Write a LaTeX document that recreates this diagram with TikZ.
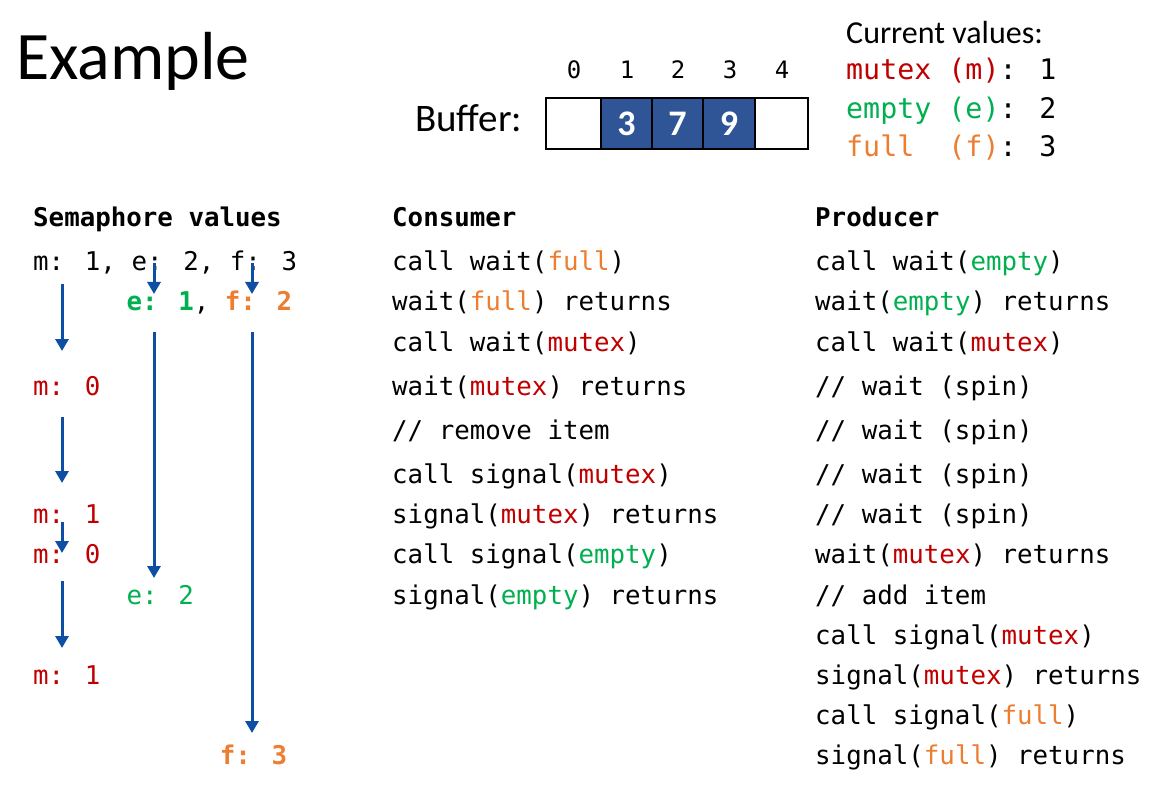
\documentclass[tikz,border=0pt]{standalone}
\usepackage{fontspec}
\setmainfont{Carlito}
\newfontfamily\mono{DejaVu Sans Mono}
\usetikzlibrary{arrows.meta}
\definecolor{cred}{HTML}{C00000}
\definecolor{cgreen}{HTML}{00B050}
\definecolor{corange}{HTML}{ED7D31}
\definecolor{cblue}{HTML}{0D4FA3}
\definecolor{cfill}{HTML}{2F5597}
\newcommand\cR[1]{\textcolor{cred}{#1}}
\newcommand\cG[1]{\textcolor{cgreen}{#1}}
\newcommand\cO[1]{\textcolor{corange}{#1}}
\begin{document}
\begin{tikzpicture}[x=1pt,y=-1pt,
  txt/.style={inner sep=0pt,anchor=base west,font=\mono\fontsize{25.8}{30}\selectfont},
  hdr/.style={txt,font=\mono\bfseries\fontsize{25.8}{30}\selectfont},
  cur/.style={inner sep=0pt,anchor=base west,font=\mono\fontsize{28.3}{32}\selectfont},
  idx/.style={inner sep=0pt,anchor=base,font=\mono\fontsize{24}{28}\selectfont},
  cell/.style={draw=black,line width=2.6pt,minimum height=51pt,inner sep=0pt,
    font=\bfseries\fontsize{36}{40}\selectfont},
  full/.style={cell,fill=cfill,text=white},
  arr/.style={draw=cblue,line width=3pt,-{Triangle[width=13pt,length=12pt]}}]
\useasboundingbox (0,0) rectangle (1175,794);
\fill[white] (0,0) rectangle (1175,794);

% title
\node[inner sep=0pt,anchor=base west,font=\fontsize{68}{72}\selectfont] (title) at (16,80) {Example};

% buffer
\node[inner sep=0pt,anchor=base west,font=\fontsize{39}{44}\selectfont] (buflabel) at (415,132) {Buffer:};
\node[cell,minimum width=55pt] (c0) at (573.5,123.5) {};
\node[full,minimum width=51pt] (c1) at (626.5,123.5) {3};
\node[full,minimum width=51pt] (c2) at (677.5,123.5) {7};
\node[full,minimum width=52pt] (c3) at (729,123.5) {9};
\node[cell,minimum width=53pt] (c4) at (781.5,123.5) {};
\node[idx] (i0) at (574,79) {0};
\node[idx] (i1) at (627,79) {1};
\node[idx] (i2) at (678,79) {2};
\node[idx] (i3) at (730,79) {3};
\node[idx] (i4) at (782,79) {4};

% current values
\node[inner sep=0pt,anchor=base west,font=\fontsize{32}{36}\selectfont] (curhdr) at (846,44) {Current values:};
\node[cur] (curm) at (846,80) {\cR{mutex (m)}: 1};
\node[cur] (cure) at (846,118.5) {\cG{empty (e)}: 2};
\node[cur] (curf) at (846,157) {\cO{full~~(f)}: 3};

% headers
\node[hdr] (hsem) at (33,227) {Semaphore values};
\node[hdr] (hcon) at (392,227) {Consumer};
\node[hdr] (hpro) at (815,227) {Producer};

% semaphore values
\node[txt] (s0) at (33,271) {m: 1, e: 2, f: 3};
\node[txt] (s1) at (126.3,311) {\textbf{\cG{e: 1}}, \textbf{\cO{f: 2}}};
\node[txt] (s2) at (33,395) {\cR{m: 0}};
\node[txt] (s3) at (33,523) {\cR{m: 1}};
\node[txt] (s4) at (33,563) {\cR{m: 0}};
\node[txt] (s5) at (126.3,604) {\cG{e: 2}};
\node[txt] (s6) at (33,684) {\cR{m: 1}};
\node[txt] (s7) at (219.6,764) {\textbf{\cO{f: 3}}};

% arrows
\coordinate (a1s) at (62,284);  \coordinate (a1e) at (62,351);
\coordinate (a2s) at (62,417);  \coordinate (a2e) at (62,483);
\coordinate (a3s) at (62,522);  \coordinate (a3e) at (62,553);
\coordinate (a4s) at (62,581);  \coordinate (a4e) at (62,648);
\coordinate (b1s) at (154,263); \coordinate (b1e) at (154,294);
\coordinate (b2s) at (154,332); \coordinate (b2e) at (154,578);
\coordinate (c1s) at (252,263); \coordinate (c1e) at (252,294);
\coordinate (c2s) at (252,332); \coordinate (c2e) at (252,733);
\draw[arr] (a1s) -- (a1e);
\draw[arr] (a2s) -- (a2e);
\draw[arr] (a3s) -- (a3e);
\draw[arr] (a4s) -- (a4e);
\draw[arr] (b1s) -- (b1e);
\draw[arr] (b2s) -- (b2e);
\draw[arr] (c1s) -- (c1e);
\draw[arr] (c2s) -- (c2e);

% consumer
\node[txt] (k1) at (392,271) {call wait(\cO{full})};
\node[txt] (k2) at (392,311) {wait(\cO{full}) returns};
\node[txt] (k3) at (392,351) {call wait(\cR{mutex})};
\node[txt] (k4) at (392,395) {wait(\cR{mutex}) returns};
\node[txt] (k5) at (392,439) {// remove item};
\node[txt] (k6) at (392,483) {call signal(\cR{mutex})};
\node[txt] (k7) at (392,523) {signal(\cR{mutex}) returns};
\node[txt] (k8) at (392,563) {call signal(\cG{empty})};
\node[txt] (k9) at (392,604) {signal(\cG{empty}) returns};

% producer
\node[txt] (p1) at (815,271) {call wait(\cG{empty})};
\node[txt] (p2) at (815,311) {wait(\cG{empty}) returns};
\node[txt] (p3) at (815,351) {call wait(\cR{mutex})};
\node[txt] (p4) at (815,395) {// wait (spin)};
\node[txt] (p5) at (815,439) {// wait (spin)};
\node[txt] (p6) at (815,483) {// wait (spin)};
\node[txt] (p7) at (815,523) {// wait (spin)};
\node[txt] (p8) at (815,563) {wait(\cR{mutex}) returns};
\node[txt] (p9) at (815,604) {// add item};
\node[txt] (p10) at (815,644) {call signal(\cR{mutex})};
\node[txt] (p11) at (815,684) {signal(\cR{mutex}) returns};
\node[txt] (p12) at (815,724) {call signal(\cO{full})};
\node[txt] (p13) at (815,764) {signal(\cO{full}) returns};
\end{tikzpicture}
\end{document}
